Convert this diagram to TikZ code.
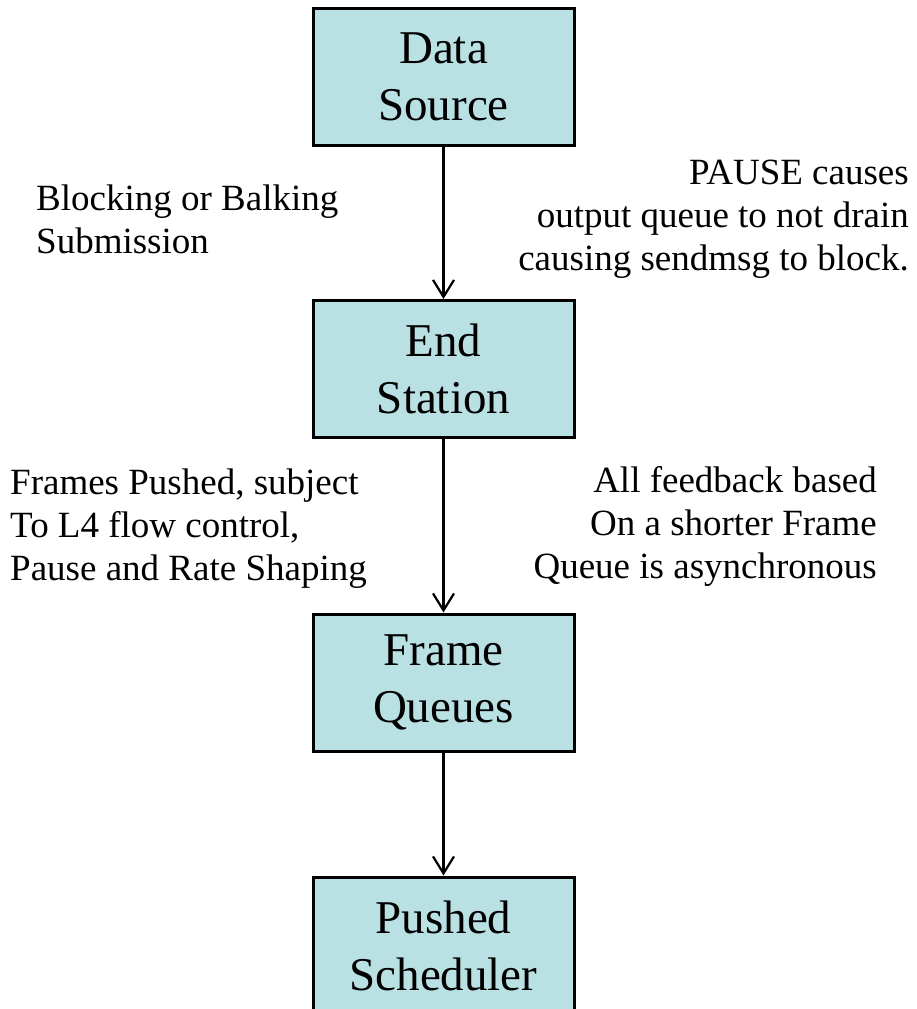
\documentclass[tikz,border=0pt]{standalone}
\usepackage{fontspec}
\setmainfont{Liberation Serif}
\usetikzlibrary{arrows.meta}
\definecolor{boxfill}{RGB}{185,224,226}
\tikzset{
  procbox/.style={draw=black, line width=3pt, fill=boxfill, minimum width=261pt, minimum height=137pt, inner sep=0pt, align=center, font=\fontsize{47}{57}\selectfont},
  lbl/.style={inner sep=0pt, font=\fontsize{37}{43}\selectfont},
  arr/.style={line width=2.2pt, -{Straight Barb[length=17pt, width=21pt, line width=2.2pt]}}
}
\begin{document}
\begin{tikzpicture}[x=1pt, y=-1pt]
\clip (0,0) rectangle (916,1009);
\fill[white] (0,0) rectangle (916,1009);
\node[procbox] (ds) at (443.5,76.5) {Data\\Source};
\node[procbox] (es) at (443.5,369) {End\\Station};
\node[procbox] (fq) at (443.5,682.5) {Frame\\Queues};
\node[procbox] (ps) at (443.5,945.5) {Pushed\\Scheduler};
\draw[arr] (ds) -- (es);
\draw[arr] (es) -- (fq);
\draw[arr] (fq) -- (ps);
\node[lbl, anchor=west, align=left] (l1) at (36,219) {Blocking or Balking\\Submission};
\node[lbl, anchor=east, align=right] (r1) at (909,219) {PAUSE causes\\output queue to not drain\\causing sendmsg to block.};
\node[lbl, anchor=west, align=left] (l2) at (10,529) {Frames Pushed, subject\\To L4 flow control,\\Pause and Rate Shaping};
\node[lbl, anchor=east, align=right] (r2) at (877,526) {All feedback based\\On a shorter Frame\\Queue is asynchronous};
\end{tikzpicture}
\end{document}
